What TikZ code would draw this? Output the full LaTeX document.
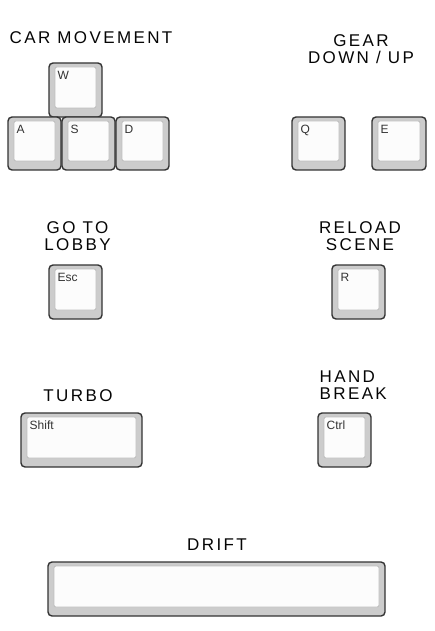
\documentclass[tikz,border=0pt]{standalone}
\usepackage{fontspec}
\setmainfont{Liberation Sans}
\newfontfamily\titlefont[LetterSpace=14]{Liberation Sans}
\usetikzlibrary{positioning, calc}
\definecolor{keybody}{HTML}{CCCCCC}
\definecolor{keyedge}{HTML}{333333}
\definecolor{facefill}{HTML}{FCFCFC}
\definecolor{faceedge}{HTML}{BEBEBE}
\definecolor{labeltext}{HTML}{333333}
\definecolor{titletext}{HTML}{050505}

\begin{document}
\begin{tikzpicture}[x=1pt, y=-1pt,
  keycap/.style={rectangle, rounded corners=4pt, draw=keyedge, fill=keybody,
    line width=1.4pt, anchor=north west, inner sep=0pt, outer sep=0pt},
  keyface/.style={rounded corners=2pt, draw=faceedge, fill=facefill, line width=0.8pt},
  keylabel/.style={anchor=base west, inner sep=0pt, text=labeltext,
    font=\fontsize{12}{14}\selectfont},
  title/.style={inner sep=0pt, text=titletext, align=center,
    font=\titlefont\fontsize{17}{17}\selectfont}]

  \useasboundingbox (0,0) rectangle (435,631);

  % key caps: name / x / y / width / height / label
  \foreach \nm/\x/\y/\w/\h/\lbl in {w/49/63/53/54/W, a/8/117/53/53/A, s/62/117/53/53/S,
      d/116/117/53/53/D, q/292/117/53/53/Q, e/372/117/54/53/E,
      esc/49/265/53/54/Esc, r/332/265/53/54/R, shift/21/413/121/54/Shift,
      ctrl/318/413/53/54/Ctrl, drift/48/562/337/54/{}} {
    \node[keycap, minimum width=\w pt, minimum height=\h pt] (key\nm) at (\x,\y) {};
    \draw[keyface] ($(key\nm.north west)+(6,4)$) rectangle ($(key\nm.south east)+(-6,-9)$);
    \node[keylabel] (lbl\nm) at ($(key\nm.north west)+(8.5,16.5)$) {\lbl};
  }

  % section titles
  \node[title, anchor=north] (tmove) at (91,31.5) {CAR MOVEMENT};
  \node[title, anchor=north] (tgear) at (361,34) {GEAR\\DOWN / UP};
  \node[title, anchor=north] (tlobby) at (77.5,221) {GO TO\\LOBBY};
  \node[title, anchor=north] (treload) at (360,221) {RELOAD\\SCENE};
  \node[title, anchor=north] (tturbo) at (78,389) {TURBO};
  \node[title, anchor=north west, align=left] (tbreak) at (319.5,371) {HAND\\BREAK};
  \node[title, anchor=north] (tdrift) at (217,539) {DRIFT};
\end{tikzpicture}
\end{document}
